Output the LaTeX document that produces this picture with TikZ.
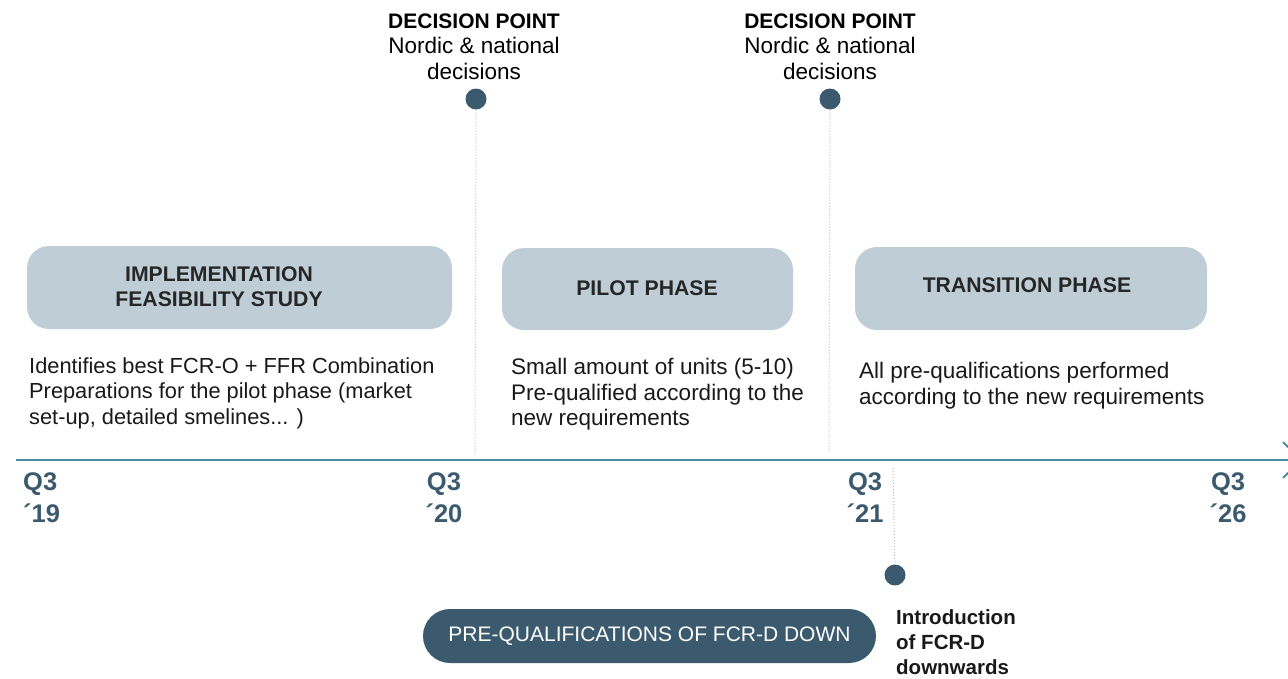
\documentclass[tikz,border=0pt]{standalone}
\usepackage{fontspec}
\setmainfont{Liberation Sans}
\definecolor{boxlight}{HTML}{BFCDD6}
\definecolor{dark}{HTML}{3B5A6E}
\definecolor{axis}{HTML}{4A8BA0}
\definecolor{dotline}{HTML}{BBBBBB}
\tikzset{
  phase/.style={fill=boxlight, draw=none, rounded corners=22pt},
  phasetxt/.style={font=\fontsize{21.2}{25}\selectfont\bfseries, align=center, text=black!85, inner sep=0pt},
  desc/.style={font=\fontsize{22.5}{25.5}\selectfont, align=left, anchor=north west, inner sep=0pt, text=black!90},
  dectxt/.style={font=\fontsize{22.5}{25.5}\selectfont, align=center, anchor=north, inner sep=0pt, text=black},
  qlab/.style={font=\fontsize{25.5}{32}\selectfont\bfseries, text=dark, inner sep=0pt, anchor=north},
  milestone/.style={circle, fill=dark, minimum size=21pt, inner sep=0pt},
  guide/.style={draw=dotline, dotted, line width=1pt},
}
\begin{document}
\begin{tikzpicture}[x=1pt,y=-1pt]
\useasboundingbox (0,0) rectangle (1288,678);

% axis
\coordinate (axL) at (16,460);
\coordinate (axR) at (1288,460);
\draw[axis, line width=2.5pt] (axL) -- (axR);
\coordinate (chA) at (1283,442);
\coordinate (chT) at (1301,460);
\coordinate (chB) at (1283,478);
\draw[axis, line width=2pt] (chA) -- (chT) -- (chB);

% decision points
\node[dectxt] (d1txt) at (474,13.5) {{\fontsize{21}{25.5}\selectfont\bfseries DECISION POINT}\\Nordic \& national\\decisions};
\node[milestone] (d1) at (476,99) {};
\coordinate (d1b) at (475,455);
\draw[guide] (d1) -- (d1b);

\node[dectxt] (d2txt) at (830,13.5) {{\fontsize{21}{25.5}\selectfont\bfseries DECISION POINT}\\Nordic \& national\\decisions};
\node[milestone] (d2) at (830,99) {};
\coordinate (d2b) at (829,452);
\draw[guide] (d2) -- (d2b);

% phases
\node[phase, minimum width=425pt, minimum height=83pt] (p1) at (239.5,287.5) {};
\node[phasetxt] (p1t) at (219,287) {IMPLEMENTATION\\FEASIBILITY STUDY};
\node[phase, minimum width=291pt, minimum height=82pt] (p2) at (647.5,289) {};
\node[phasetxt] (p2t) at (647,288) {PILOT PHASE};
\node[phase, minimum width=352pt, minimum height=83pt] (p3) at (1031,288.5) {};
\node[phasetxt] (p3t) at (1027,285) {TRANSITION PHASE};

% descriptions
\node[desc, font=\fontsize{21.8}{25.3}\selectfont] (p1d) at (29,357.5) {Identifies best FCR-O + FFR Combination\\Preparations for the pilot phase (market\\set-up, detailed smelines... )};
\node[desc] (p2d) at (511,358) {Small amount of units (5-10)\\Pre-qualified according to the\\new requirements};
\node[desc] (p3d) at (859,362) {All pre-qualifications performed\\according to the new requirements};

% quarter labels
\node[qlab, anchor=north west, align=left] (q19) at (23,472) {Q3\\´19};
\node[qlab, align=center] (q20) at (444,472) {Q3\\´20};
\node[qlab, align=center] (q21) at (865,472) {Q3\\´21};
\node[qlab, align=center] (q26) at (1228,472) {Q3\\´26};

% FCR-D introduction
\coordinate (fTop) at (893,468);
\node[milestone] (fd) at (895,575) {};
\draw[guide] (fTop) -- (fd);
\node[desc, font=\fontsize{20.5}{25}\selectfont\bfseries] (fdt) at (896,609) {Introduction\\of FCR-D\\downwards};

\node[fill=dark, rounded corners=27pt, minimum width=453pt, minimum height=54pt, inner sep=0pt,
  text=white, font=\fontsize{21}{25}\selectfont] (pq) at (649.5,636) {PRE-QUALIFICATIONS OF FCR-D DOWN};
\end{tikzpicture}
\end{document}
